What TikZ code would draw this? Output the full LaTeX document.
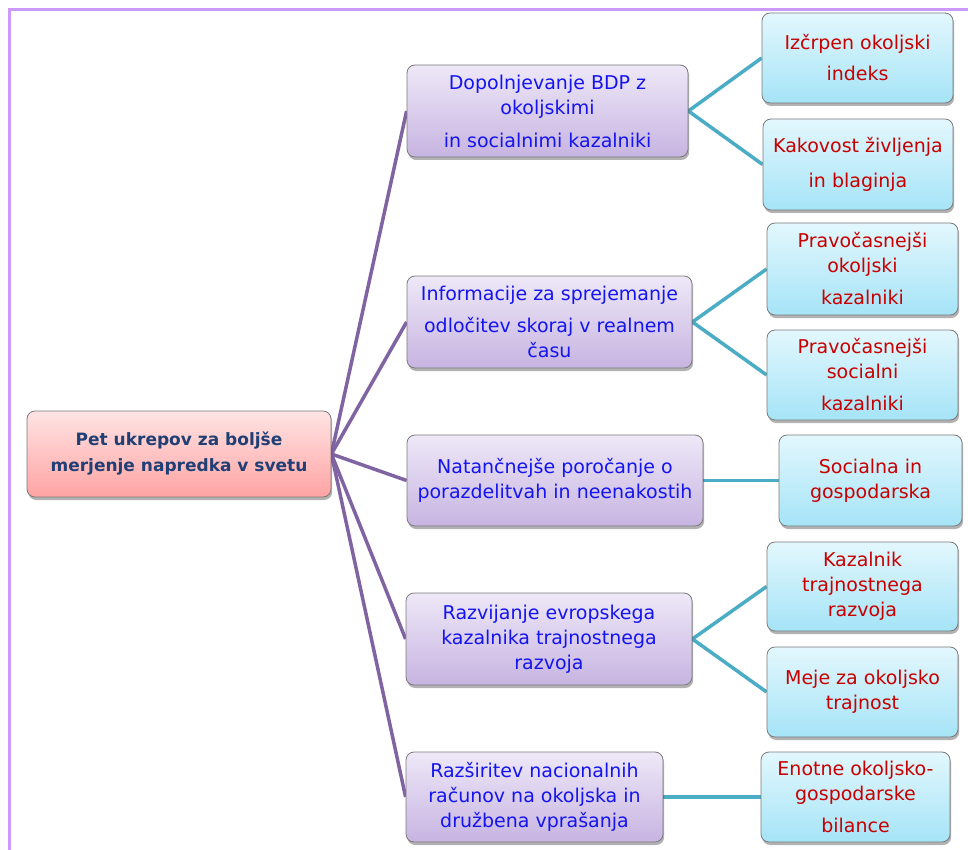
\documentclass[tikz,border=0pt]{standalone}
\usepackage{fontspec}
\setmainfont{DejaVu Sans}
\usetikzlibrary{shadows,backgrounds}

\definecolor{framecol}{HTML}{CC99FF}
\definecolor{boxline}{HTML}{7A7A7A}
\definecolor{pinkTop}{HTML}{FFE4E4}
\definecolor{pinkBot}{HTML}{FFA3A3}
\definecolor{lavTop}{HTML}{EEE8F8}
\definecolor{lavBot}{HTML}{C7B4E1}
\definecolor{cyanTop}{HTML}{E3F7FD}
\definecolor{cyanBot}{HTML}{A5E4F7}
\definecolor{rootText}{HTML}{1F3F75}
\definecolor{actText}{HTML}{1414F0}
\definecolor{subText}{HTML}{C80000}
\definecolor{trunkCol}{HTML}{8064A2}
\definecolor{twigCol}{HTML}{4BACC6}

\tikzset{
  box/.style={draw=boxline, line width=0.8pt, rounded corners=8pt, align=center,
    inner sep=2pt,
    drop shadow={shadow xshift=1.2pt, shadow yshift=-3pt, opacity=0.3, fill=black}},
  rootbox/.style={box, top color=pinkTop, bottom color=pinkBot, text=rootText,
    font=\fontsize{17}{26}\selectfont\bfseries},
  actbox/.style={box, top color=lavTop, bottom color=lavBot, text=actText,
    font=\fontsize{19}{25}\selectfont},
  subbox/.style={box, top color=cyanTop, bottom color=cyanBot, text=subText,
    font=\fontsize{19}{25}\selectfont},
  trunk/.style={draw=trunkCol, line width=3.5pt},
  twig/.style={draw=twigCol, line width=3.5pt},
  frameline/.style={draw=framecol, line width=2.6pt},
}

\begin{document}
\begin{tikzpicture}[x=1pt, y=-1pt]
\useasboundingbox (0,0) rectangle (968,850);

% outer frame (top and left edges)
\draw[frameline] (968,9.5) -- (9.5,9.5) -- (9.5,850);

% central topic
\node[rootbox, minimum width=304pt, minimum height=86pt] (root) at (179,454)
  {Pet ukrepov za boljše\\merjenje napredka v svetu};

% five actions
\node[actbox, minimum width=281pt, minimum height=92pt] (a1) at (547.5,111)
  {Dopolnjevanje BDP z\\okoljskimi\\[8pt]in socialnimi kazalniki};
\node[actbox, minimum width=285pt, minimum height=92pt] (a2) at (549.5,322)
  {Informacije za sprejemanje\\[7pt]odločitev skoraj v realnem\\času};
\node[actbox, minimum width=296pt, minimum height=91pt] (a3) at (555,480.5)
  {Natančnejše poročanje o\\porazdelitvah in neenakostih};
\node[actbox, minimum width=286pt, minimum height=92pt] (a4) at (549,639)
  {Razvijanje evropskega\\kazalnika trajnostnega\\razvoja};
\node[actbox, minimum width=257pt, minimum height=90pt] (a5) at (534.5,797)
  {Razširitev nacionalnih\\računov na okoljska in\\družbena vprašanja};

% outcomes
\node[subbox, minimum width=191pt, minimum height=90pt] (s1a) at (857.5,58)
  {Izčrpen okoljski\\[6pt]indeks};
\node[subbox, minimum width=190pt, minimum height=91pt] (s1b) at (858,164.5)
  {Kakovost življenja\\[10pt]in blaginja};
\node[subbox, minimum width=191pt, minimum height=92pt] (s2a) at (862.5,269)
  {Pravočasnejši\\okoljski\\[7pt]kazalniki};
\node[subbox, minimum width=191pt, minimum height=90pt] (s2b) at (862.5,375)
  {Pravočasnejši\\socialni\\[7pt]kazalniki};
\node[subbox, minimum width=183pt, minimum height=91pt] (s3a) at (870.5,480.5)
  {Socialna in\\gospodarska};
\node[subbox, minimum width=191pt, minimum height=89pt] (s4a) at (862.5,586.5)
  {Kazalnik\\trajnostnega\\razvoja};
\node[subbox, minimum width=191pt, minimum height=90pt] (s4b) at (862.5,692)
  {Meje za okoljsko\\trajnost};
\node[subbox, minimum width=189pt, minimum height=90pt] (s5a) at (855.5,797)
  {Enotne okoljsko-\\gospodarske\\[7pt]bilance};

% connectors
\begin{scope}[on background layer]
  \foreach \n in {a1,a2,a3,a4,a5}
    \draw[trunk] (root.east) -- (\n.west);
  \draw[twig] (a1.east) -- (s1a.west);
  \draw[twig] (a1.east) -- (s1b.west);
  \draw[twig] (a2.east) -- (s2a.west);
  \draw[twig] (a2.east) -- (s2b.west);
  \draw[twig] (a3.east) -- (s3a.west);
  \draw[twig] (a4.east) -- (s4a.west);
  \draw[twig] (a4.east) -- (s4b.west);
  \draw[twig] (a5.east) -- (s5a.west);
\end{scope}
\end{tikzpicture}
\end{document}
